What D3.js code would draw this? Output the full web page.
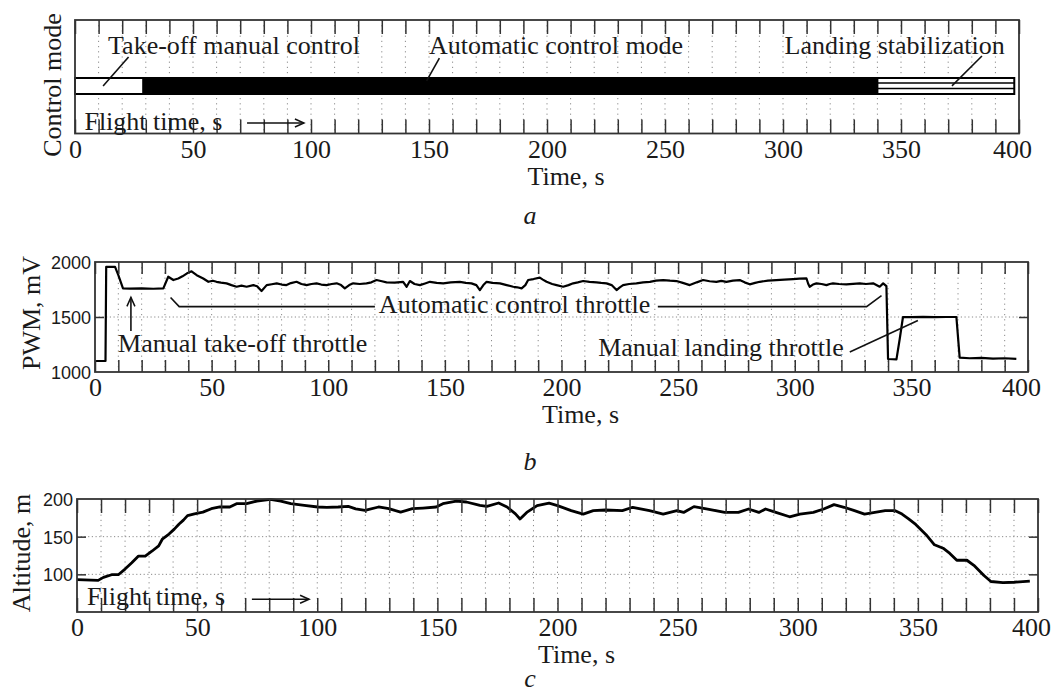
<!DOCTYPE html>
<html>
<head>
<meta charset="utf-8">
<title>Flight test: control mode, PWM, altitude</title>
<script src="https://d3js.org/d3.v7.min.js"></script>
<style>
  body { margin: 0; background: #fff; }
  text { fill: #1a1a1a; }
</style>
</head>
<body>
<div id="chart"></div>
<script>
// ---- data ----
var xLabels = [0, 50, 100, 150, 200, 250, 300, 350, 400];

// panel a: control mode intervals (s)
var modeNames = ["Take-off manual control", "Automatic control mode", "Landing stabilization"];
var modeStart = [0, 29, 340];
var modeEnd = [29, 340, 398];

// panel b: PWM, mV
var pwmLabels = [1000, 1500, 2000];
var pwmTime = [0, 4.5, 4.8, 8.6, 10, 12, 15, 20, 25, 29.3, 31.4, 33.6, 35.7, 37.5, 39.3, 41.4, 43.6, 46.4, 48.6, 50.5,
  52.1, 54, 56.4, 58.5, 60.7, 62.8, 65, 67.9, 69.5, 71.4, 73.6, 75.8, 77.9, 80, 82.1, 84, 86.4, 88.5, 90.7, 92.8,
  95, 97, 99.3, 101.5, 103.6, 105.5, 107.1, 109, 110.7, 113.5, 116.4, 118.5, 120.7, 123, 125, 128.5, 132.1, 133.6, 135, 137,
  139.3, 141.5, 143.6, 146.5, 149.3, 152.5, 156.4, 159, 161.4, 163.5, 165, 166.5, 167.9, 170.5, 173.6, 176.5, 179.3, 181, 182.9, 184.5,
  185.7, 188, 190.7, 192, 193.6, 196, 197.9, 200.7, 203, 205, 207, 209.3, 212, 215, 217, 219.3, 221.5, 223.6, 225, 226.4,
  229, 232.1, 235, 237.9, 240.5, 243.6, 246.5, 249.3, 252, 255, 258, 260.7, 263.5, 266.4, 268.5, 270.7, 273.5, 276.4, 278.5, 280.7,
  283, 285, 288.5, 292.1, 295.5, 299.3, 302, 305, 305.8, 306.4, 307.8, 309.3, 311.5, 313.6, 315, 316.4, 319, 322.1, 325, 327.9,
  330.5, 333.6, 336.4, 337.9, 339.3, 340, 343.6, 345, 346.4, 350, 355, 360, 365, 369.3, 370.7, 375, 380, 385, 390, 395];
var pwmValue = [1100, 1100, 1955, 1955, 1880, 1760, 1758, 1760, 1757, 1760, 1866, 1836, 1850, 1870, 1895, 1915, 1880, 1850, 1820, 1830,
  1820, 1812, 1806, 1790, 1775, 1785, 1775, 1790, 1780, 1736, 1790, 1798, 1806, 1795, 1790, 1808, 1820, 1800, 1790, 1800,
  1806, 1795, 1790, 1800, 1806, 1790, 1760, 1790, 1806, 1800, 1806, 1815, 1836, 1825, 1815, 1812, 1820, 1775, 1827, 1800,
  1790, 1805, 1820, 1810, 1806, 1815, 1820, 1810, 1806, 1790, 1745, 1790, 1820, 1810, 1806, 1790, 1775, 1770, 1760, 1790,
  1836, 1845, 1858, 1840, 1820, 1800, 1790, 1775, 1790, 1806, 1815, 1827, 1820, 1815, 1810, 1806, 1790, 1745, 1770, 1790,
  1800, 1806, 1815, 1820, 1830, 1836, 1830, 1827, 1810, 1790, 1815, 1836, 1825, 1820, 1828, 1820, 1830, 1836, 1815, 1797,
  1810, 1820, 1830, 1836, 1840, 1845, 1848, 1852, 1800, 1775, 1795, 1806, 1800, 1790, 1800, 1806, 1800, 1797, 1802, 1806,
  1800, 1806, 1775, 1806, 1780, 1118, 1115, 1300, 1500, 1498, 1502, 1499, 1500, 1500, 1130, 1125, 1128, 1122, 1125, 1120];

// panel c: altitude, m
var altLabels = [100, 150, 200];
var altTime = [0, 8.8, 11, 14.4, 17.2, 20, 22.8, 25.6, 28.4, 31.3, 34, 35.5, 38.3, 40.5, 42.5, 44.3, 46, 48.9, 52.4, 55.9,
  59.4, 63.6, 66.4, 70.6, 74.9, 80.5, 84.8, 89, 94.6, 100.2, 104, 108.7, 112.9, 116, 119.9, 125.5, 129.8, 134.7, 139.6, 144,
  149.5, 152.3, 157.9, 162.1, 167.7, 170.6, 175.5, 179, 182.5, 184.4, 187.2, 191.5, 196.5, 200, 205.7, 210.7, 214.9, 219.9, 227, 231.3,
  238.3, 244, 249.7, 252.5, 256.8, 262.5, 269.6, 275.3, 279.5, 283.8, 286.6, 290.9, 296.6, 300.9, 306.5, 310.8, 315.1, 319.3, 323.6, 327.8,
  332.1, 336.4, 340.6, 343.4, 346, 349.1, 353.4, 356.9, 360.5, 363.3, 366.2, 370.4, 373.3, 377.5, 380.4, 385.4, 390, 396.6];
var altValue = [93, 92, 96, 99.5, 99.5, 107, 115.3, 124.3, 124.3, 131, 137.7, 146.6, 153.4, 160, 166.8, 172, 178, 180.3, 182.6, 187.1,
  189.4, 189.4, 193.8, 193.8, 197.3, 199.6, 197.3, 193.8, 191.5, 189.4, 189, 189.4, 190.2, 187, 184.9, 189.4, 187.1, 182.6, 187.1, 188,
  189.4, 193.8, 197.3, 196, 191.5, 190.2, 194.7, 189.4, 180.3, 173.4, 182.2, 191.2, 194.4, 191.2, 184.5, 180, 184.5, 185.4, 184.5, 189,
  184.5, 180, 184.5, 182.2, 189.9, 186.7, 182.2, 182.2, 186.7, 182.2, 186.7, 182.2, 176.4, 180, 182.2, 186.7, 192.5, 189, 184.5, 180,
  182.2, 184.5, 184.5, 180, 174, 166.3, 152.7, 139.2, 134.7, 127.8, 118.7, 118.7, 112, 98.4, 90.5, 88.9, 89.5, 91];

// ---- layout ----
var serif = "'Liberation Serif', 'Times New Roman', serif";
var sans = "'Liberation Sans', Arial, sans-serif";
var minorTicks = d3.range(0, 401, 10);

var svg = d3.select("#chart").append("svg")
    .attr("width", 1055)
    .attr("height", 695);

var defs = svg.append("defs");
defs.append("marker")
    .attr("id", "arrow")
    .attr("viewBox", "-10 -5 12 10")
    .attr("refX", 0).attr("refY", 0)
    .attr("markerWidth", 12).attr("markerHeight", 10)
    .attr("markerUnits", "userSpaceOnUse")
    .attr("orient", "auto")
    .append("path")
    .attr("d", "M-9,-4L0,0L-9,4")
    .attr("fill", "none")
    .attr("stroke", "#111")
    .attr("stroke-width", 1.5);

// draws frame, grid, ticks and labels for one panel, returns scales
function panel(o) {
    var x = d3.scaleLinear().domain([0, 400]).range([o.left, o.right]);
    var y = d3.scaleLinear().domain(o.yDomain).range([o.bottom, o.top]);
    var g = svg.append("g");

    // dotted grid
    g.selectAll(".vgrid")
        .data(minorTicks.slice(1, -1))
        .enter().append("line")
        .attr("x1", function(d) { return x(d); })
        .attr("x2", function(d) { return x(d); })
        .attr("y1", o.top).attr("y2", o.bottom)
        .attr("stroke", "#8a8a8a")
        .attr("stroke-width", 1)
        .attr("stroke-dasharray", "1.2,4");
    g.selectAll(".hgrid")
        .data(o.yGrid)
        .enter().append("line")
        .attr("x1", o.left).attr("x2", o.right)
        .attr("y1", function(d) { return y(d); })
        .attr("y2", function(d) { return y(d); })
        .attr("stroke", "#8a8a8a")
        .attr("stroke-width", 1)
        .attr("stroke-dasharray", "1.2,2.5");

    var marks = g.append("g");

    // inward ticks
    var tickStyle = function(sel) {
        sel.select(".domain").remove();
        sel.selectAll(".tick line").attr("stroke", "#333").attr("stroke-width", 1.5);
        sel.selectAll(".tick text").remove();
    };
    g.append("g").attr("transform", "translate(0," + o.bottom + ")")
        .call(d3.axisBottom(x).tickValues(minorTicks).tickSizeInner(-o.tickLen).tickSizeOuter(0))
        .call(tickStyle);
    g.append("g").attr("transform", "translate(0," + o.top + ")")
        .call(d3.axisTop(x).tickValues(minorTicks).tickSizeInner(-o.tickLen).tickSizeOuter(0))
        .call(tickStyle);
    if (o.yGrid.length) {
        g.append("g").attr("transform", "translate(" + o.left + ",0)")
            .call(d3.axisLeft(y).tickValues(o.yGrid).tickSizeInner(-9).tickSizeOuter(0))
            .call(tickStyle);
        g.append("g").attr("transform", "translate(" + o.right + ",0)")
            .call(d3.axisRight(y).tickValues(o.yGrid).tickSizeInner(-9).tickSizeOuter(0))
            .call(tickStyle);
    }

    // frame
    g.append("rect")
        .attr("x", o.left).attr("y", o.top)
        .attr("width", o.right - o.left).attr("height", o.bottom - o.top)
        .attr("fill", "none").attr("stroke", "#333").attr("stroke-width", 1.8);

    // x tick labels (last one pulled in a little, as in the original figure)
    var xa = g.append("g").attr("transform", "translate(0," + o.bottom + ")")
        .call(d3.axisBottom(x).tickValues(xLabels).tickSize(0));
    xa.select(".domain").remove();
    xa.selectAll("text")
        .attr("y", 24).attr("dy", null)
        .attr("x", function(d) { return d === 400 ? -7 : 0; })
        .style("font-family", serif).style("font-size", "26px").attr("fill", "#1a1a1a");

    // y tick labels
    if (o.yLabels) {
        var ya = g.append("g").attr("transform", "translate(" + o.left + ",0)")
            .call(d3.axisLeft(y).tickValues(o.yLabels).tickFormat(d3.format("d")).tickSize(0).tickPadding(4));
        ya.select(".domain").remove();
        ya.selectAll("text")
            .attr("dy", "0.36em")
            .style("font-family", sans).style("font-size", "18px").attr("fill", "#1a1a1a");
    }

    // axis titles
    g.append("text")
        .attr("x", (o.left + o.right) / 2 + 19)
        .attr("y", o.bottom + 51)
        .attr("text-anchor", "middle")
        .style("font-family", serif).style("font-size", "26px")
        .text("Time, s");
    g.append("text")
        .attr("transform", "translate(" + o.yTitleX + "," + o.yTitleY + ") rotate(-90)")
        .attr("text-anchor", "middle")
        .style("font-family", serif).style("font-size", "26px")
        .text(o.yTitle);
    g.append("text")
        .attr("x", 530).attr("y", o.captionY)
        .attr("text-anchor", "middle")
        .style("font-family", serif).style("font-size", "26px").style("font-style", "italic")
        .text(o.caption);

    return { x: x, y: y, g: g, marks: marks };
}

function label(g, x, y, t, v, txt, anchor) {
    g.append("text")
        .attr("x", x(t)).attr("y", y(v))
        .attr("text-anchor", anchor || "start")
        .style("font-family", serif).style("font-size", "26px")
        .text(txt);
}
function pointer(g, x, y, pts, arrow) {
    var p = g.append("path")
        .attr("d", d3.line().x(function(d) { return x(d[0]); }).y(function(d) { return y(d[1]); })(pts))
        .attr("fill", "none").attr("stroke", "#111").attr("stroke-width", 1.6);
    if (arrow) p.attr("marker-end", "url(#arrow)");
}

// ---- panel a ----
var pa = panel({ left: 75, right: 1019, top: 20, bottom: 133.5, yDomain: [0, 1], yGrid: [], tickLen: 14,
    yTitle: "Control mode", yTitleX: 61, yTitleY: 85, caption: "a", captionY: 224 });
var barTop = 0.489, barBot = 0.348;
pa.marks.selectAll(".mode")
    .data(modeNames)
    .enter().append("rect")
    .attr("x", function(d, i) { return pa.x(modeStart[i]); })
    .attr("width", function(d, i) { return pa.x(modeEnd[i]) - pa.x(modeStart[i]); })
    .attr("y", pa.y(barTop))
    .attr("height", pa.y(barBot) - pa.y(barTop))
    .attr("fill", function(d, i) { return i === 1 ? "#000" : "#fff"; })
    .attr("stroke", "#000").attr("stroke-width", 2);
// stripes of landing stabilization
pa.marks.selectAll(".stripe")
    .data([0.445, 0.396])
    .enter().append("line")
    .attr("x1", pa.x(modeStart[2])).attr("x2", pa.x(modeEnd[2]))
    .attr("y1", function(d) { return pa.y(d); })
    .attr("y2", function(d) { return pa.y(d); })
    .attr("stroke", "#000").attr("stroke-width", 1.6);

label(pa.g, pa.x, pa.y, 14, 0.70, modeNames[0]);
pointer(pa.g, pa.x, pa.y, [[22.7, 0.674], [11.9, 0.419]]);
label(pa.g, pa.x, pa.y, 150, 0.70, modeNames[1]);
pointer(pa.g, pa.x, pa.y, [[154.4, 0.665], [149, 0.463]]);
label(pa.g, pa.x, pa.y, 394, 0.70, modeNames[2], "end");
pointer(pa.g, pa.x, pa.y, [[384.3, 0.683], [371.6, 0.42]]);
label(pa.g, pa.x, pa.y, 4, 0.031, "Flight time, s");
pointer(pa.g, pa.x, pa.y, [[72.9, 0.0925], [97, 0.0925]], true);

// ---- panel b ----
var pb = panel({ left: 95, right: 1028, top: 262, bottom: 372, yDomain: [1000, 2000], yGrid: [1500], tickLen: 12,
    yLabels: pwmLabels, yTitle: "PWM, mV", yTitleX: 40, yTitleY: 313, caption: "b", captionY: 470 });
pb.marks.append("path")
    .datum(pwmTime)
    .attr("d", d3.line()
        .x(function(d) { return pb.x(d); })
        .y(function(d, i) { return pb.y(pwmValue[i]); }))
    .attr("fill", "none").attr("stroke", "#000").attr("stroke-width", 2.2)
    .attr("stroke-linejoin", "round");

pointer(pb.g, pb.x, pb.y, [[32.4, 1677], [36.1, 1594], [120, 1594]]);
label(pb.g, pb.x, pb.y, 121.7, 1536, "Automatic control throttle");
pointer(pb.g, pb.x, pb.y, [[241.3, 1594], [330.8, 1594], [337.2, 1694]]);
label(pb.g, pb.x, pb.y, 9.9, 1185, "Manual take-off throttle");
pointer(pb.g, pb.x, pb.y, [[15.4, 1373], [15.4, 1678]], true);
label(pb.g, pb.x, pb.y, 321, 1145, "Manual landing throttle", "end");
pointer(pb.g, pb.x, pb.y, [[323.6, 1182], [352.8, 1468]]);

// ---- panel c ----
var pc = panel({ left: 77, right: 1038, top: 499, bottom: 612, yDomain: [50, 200], yGrid: [100, 150], tickLen: 14,
    yLabels: altLabels, yTitle: "Altitude, m", yTitleX: 30, yTitleY: 553, caption: "c", captionY: 687 });
pc.marks.append("path")
    .datum(altTime)
    .attr("d", d3.line()
        .x(function(d) { return pc.x(d); })
        .y(function(d, i) { return pc.y(altValue[i]); }))
    .attr("fill", "none").attr("stroke", "#000").attr("stroke-width", 2.8)
    .attr("stroke-linejoin", "round");

label(pc.g, pc.x, pc.y, 4.2, 59.5, "Flight time, s");
pointer(pc.g, pc.x, pc.y, [[72.8, 67], [96.6, 67]], true);
</script>
</body>
</html>
